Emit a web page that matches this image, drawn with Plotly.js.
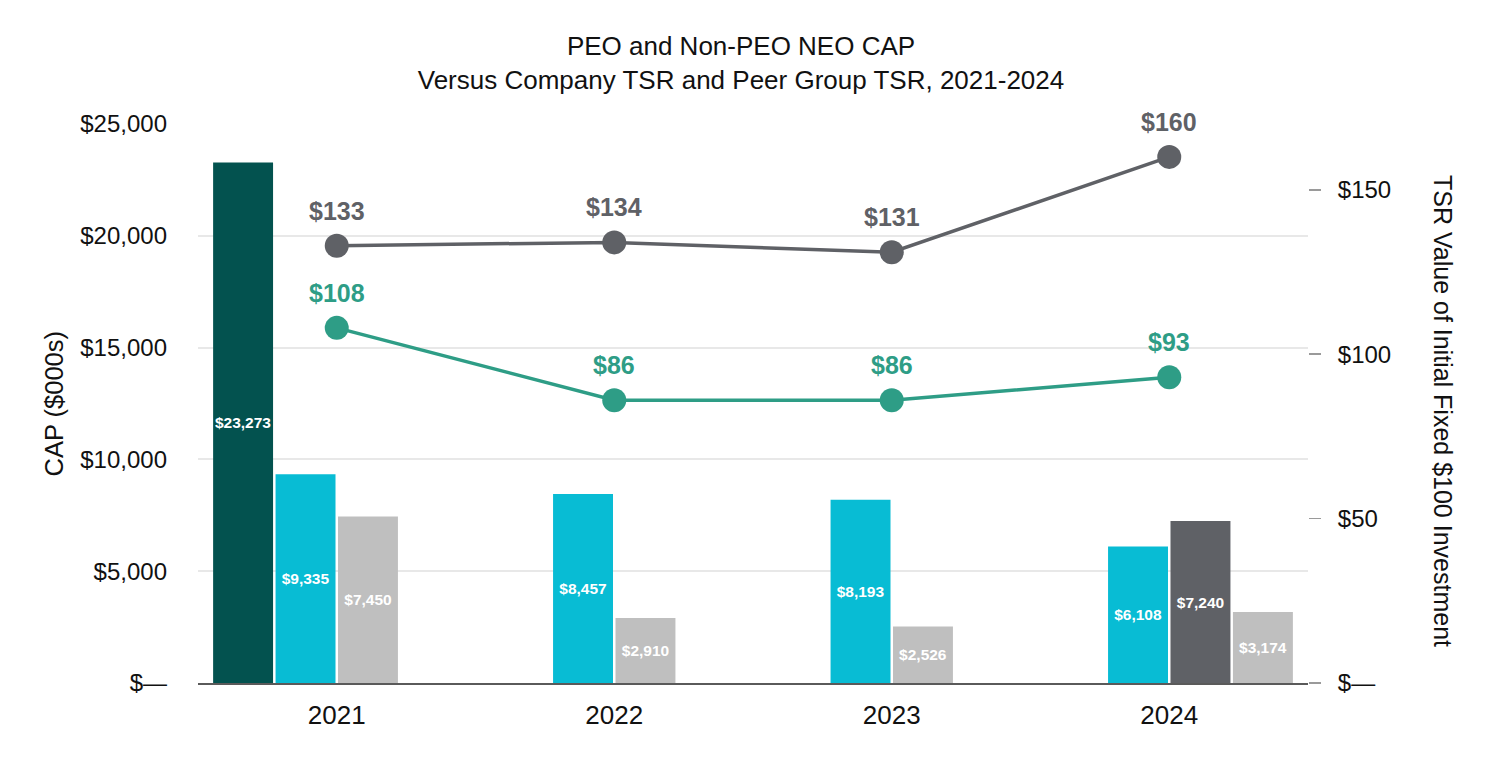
<!DOCTYPE html>
<html>
<head>
<meta charset="utf-8">
<script src="https://cdn.plot.ly/plotly-3.0.1.min.js"></script>
<style>html,body{margin:0;padding:0;background:#fff;}#chart{width:1496px;height:760px;}</style>
</head>
<body>
<div id="chart"></div>
<script>
// ---- data ----
const years = ['2021', '2022', '2023', '2024'];
const peo1Cap = [23273, null, null, null];      // first PEO
const peo2Cap = [9335, 8457, 8193, 6108];       // second PEO
const peo3Cap = [null, null, null, 7240];       // third PEO
const nonPeoCap = [7450, 2910, 2526, 3174];     // average non-PEO NEO
const companyTsr = [108, 86, 86, 93];
const peerTsr = [133, 134, 131, 160];
const leftTickVals = [0, 5000, 10000, 15000, 20000, 25000];
const leftTickText = ['$\u2014', '$5,000', '$10,000', '$15,000', '$20,000', '$25,000'];
const rightTickVals = [0, 50, 100, 150];
const rightTickText = ['$\u2014', '$50', '$100', '$150'];

// colours
const cTeal = '#03524f', cCyan = '#08bcd4', cLight = '#bfbfbf', cDark = '#5f6166', cGreen = '#2e9d86';

// slot 3 holds non-PEO bars where no third PEO exists, the third PEO otherwise;
// slot 4 holds the non-PEO bar only in the year with a third PEO.
const slot3 = years.map((y, i) => peo3Cap[i] != null ? peo3Cap[i] : nonPeoCap[i]);
const slot3Colors = years.map((y, i) => peo3Cap[i] != null ? cDark : cLight);
const slot4 = years.map((y, i) => peo3Cap[i] != null ? nonPeoCap[i] : null);

const font = 'Liberation Sans, Arial, sans-serif';
const barText = {family: font, size: 15.5, color: '#ffffff', weight: 'bold'};

function barTrace(vals, color, name) {
  return {
    type: 'bar', x: years, y: vals, name: name,
    marker: {color: color},
    texttemplate: '$%{y:,}', textposition: 'inside', insidetextanchor: 'middle', textangle: 0,
    constraintext: 'none', textfont: barText, hoverinfo: 'skip', cliponaxis: false
  };
}

function lineTrace(vals, color) {
  return {
    type: 'scatter', mode: 'lines+markers', x: years, y: vals, yaxis: 'y2',
    line: {color: color, width: 3.5}, marker: {color: color, size: 24},
    cliponaxis: false, hoverinfo: 'skip'
  };
}

function labelAnnotations(vals, color) {
  return years.map((yr, i) => ({
    x: i, y: vals[i], xref: 'x', yref: 'y2', text: '$' + vals[i],
    showarrow: false, xanchor: 'center', yanchor: 'middle', yshift: 35,
    font: {family: font, size: 25, color: color, weight: 'bold'}
  }));
}

const traces = [
  barTrace(peo1Cap, cTeal, 'PEO 1'),
  barTrace(peo2Cap, cCyan, 'PEO 2'),
  barTrace(slot3, slot3Colors, 'Non-PEO / PEO 3'),
  barTrace(slot4, cLight, 'Non-PEO'),
  lineTrace(peerTsr, cDark),
  lineTrace(companyTsr, cGreen)
];

const layout = {
  width: 1496, height: 760,
  margin: {l: 198, r: 188, t: 124, b: 77},
  paper_bgcolor: '#ffffff', plot_bgcolor: '#ffffff',
  showlegend: false,
  barmode: 'group', bargap: 0.1, bargroupgap: 0.04,
  font: {family: font, color: '#111111', size: 24},
  title: {
    text: 'PEO and Non-PEO NEO CAP<br>Versus Company TSR and Peer Group TSR, 2021-2024',
    font: {family: font, size: 26, color: '#111111'},
    x: (741 - 198) / 1110, xref: 'paper', xanchor: 'center', y: 1 - 55 / 760, yref: 'container', yanchor: 'middle'
  },
  xaxis: {
    type: 'category', categoryarray: years, range: [-0.5, 3.5], autorange: false,
    showgrid: false, zeroline: false,
    showline: true, linecolor: '#5a5a5a', linewidth: 2,
    ticks: '', tickfont: {family: font, size: 26, color: '#111111'}, ticklabelstandoff: 8
  },
  yaxis: {
    range: [0, 25000], autorange: false, tickvals: leftTickVals, ticktext: leftTickText,
    showgrid: true, gridcolor: '#e8e8e8', gridwidth: 2, zeroline: false, showline: false,
    ticks: '', tickfont: {family: font, size: 24, color: '#111111'}, ticklabelstandoff: 30
  },
  yaxis2: {
    overlaying: 'y', side: 'right', range: [0, 170], autorange: false,
    tickvals: rightTickVals, ticktext: rightTickText,
    showgrid: false, zeroline: false, showline: false,
    ticks: 'outside', ticklen: 12, tickwidth: 1.5, tickcolor: '#9a9a9a',
    tickfont: {family: font, size: 24, color: '#111111'}, ticklabelstandoff: 12
  },
  annotations: [
    {text: 'CAP ($000s)', textangle: -90, xref: 'paper', yref: 'paper',
     x: (53 - 198) / 1110, y: 0.5, xanchor: 'center', yanchor: 'middle', showarrow: false,
     font: {family: font, size: 25.5, color: '#111111'}},
    {text: 'TSR Value of Initial Fixed $100 Investment', textangle: 90, xref: 'paper', yref: 'paper',
     x: (1443 - 198) / 1110, y: (683 - 411) / 559, xanchor: 'center', yanchor: 'middle', showarrow: false,
     font: {family: font, size: 25, color: '#111111'}}
  ].concat(labelAnnotations(peerTsr, cDark), labelAnnotations(companyTsr, cGreen))
};

Plotly.newPlot('chart', traces, layout, {displayModeBar: false, staticPlot: true});
</script>
</body>
</html>
